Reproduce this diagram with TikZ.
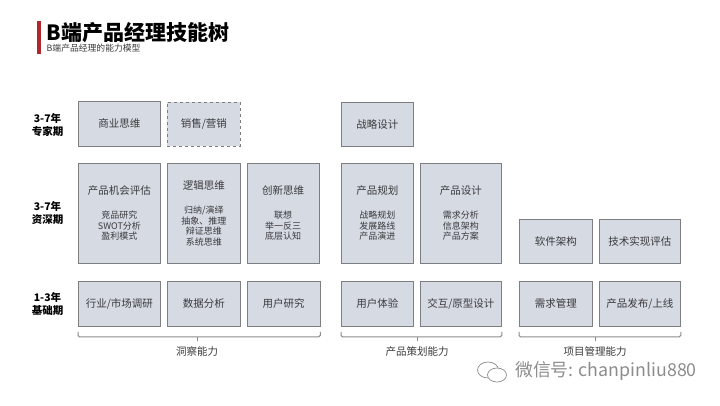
\documentclass[tikz,border=0pt]{standalone}
\usepackage{fontspec}
\setmainfont{Noto Sans CJK SC}
\usepackage{tikz}
\usetikzlibrary{positioning,calc}
\definecolor{ink}      {HTML}{3A3A3C}
\definecolor{boxfill}  {HTML}{D5DAE3}
\definecolor{boxline}  {HTML}{7C7E82}
\definecolor{barred}   {HTML}{B0272D}
\definecolor{softink}  {HTML}{8C8C8C}
\newcommand{\sline}[1]{{\fontsize{9}{10.5}\selectfont #1}}
\tikzset{
  % --- nodes
  skill/.style  = {draw=boxline, fill=boxfill, line width=0.8pt, align=center, anchor=north west,
                   inner sep=0pt, text=ink, font=\fontsize{10.5}{10.5}\selectfont},
  maybe/.style  = {skill, dashed},
  stage/.style  = {align=center, text=black, inner sep=0pt, font=\fontsize{10.5}{13}\selectfont\bfseries},
  group/.style  = {text=ink, inner sep=0pt, font=\fontsize{10.5}{13}\selectfont},
  % --- edges
  bracket/.style= {draw=softink, line width=1pt, rounded corners=1.5pt},
  tick/.style   = {draw=softink, line width=0.8pt},
}
\begin{document}
\begin{tikzpicture}[x=1pt,y=-1pt]
  \useasboundingbox (0,0) rectangle (720,405);
  % header
  \fill[barred] (37,21) rectangle (41,54);
  \node[anchor=west,inner sep=0pt,font=\fontsize{21}{24}\selectfont\bfseries,text=black] (title) at (46.5,33) {B端产品经理技能树};
  \node[anchor=west,inner sep=0pt,font=\fontsize{8.8}{10}\selectfont,text=ink] (subtitle) at (46.5,48.5) {B端产品经理的能力模型};
  % stages
  \node[stage] (expert) at (47.5,125) {3-7年\\专家期};
  \node[stage] (senior) at (47.5,212.5) {3-7年\\资深期};
  \node[stage] (basic) at (47.5,303.5) {1-3年\\基础期};
  % boxes
  \foreach \nm/\sty/\px/\py/\bw/\bh/\txt in {
    biz/skill/78/101/82/45/{商业思维},
    sales/maybe/167/102/73/44/{销售/营销},
    strategy/skill/341/102/72/44/{战略设计},
    chance/skill/78/163/82/99.5/{产品机会评估\\[14pt]\sline{竞品研究}\\\sline{SWOT分析}\\\sline{盈利模式}},
    logic/skill/167/163/73/99.5/{逻辑思维\\[14pt]\sline{归纳/演绎}\\\sline{抽象、推理}\\\sline{辩证思维}\\\sline{系统思维}},
    create/skill/247/163/71.5/99.5/{创新思维\\[14pt]\sline{联想}\\\sline{举一反三}\\\sline{底层认知}},
    plan/skill/341/163/72/99.5/{产品规划\\[14pt]\sline{战略规划}\\\sline{发展路线}\\\sline{产品演进}},
    design/skill/420/163/81/99.5/{产品设计\\[14pt]\sline{需求分析}\\\sline{信息架构}\\\sline{产品方案}},
    arch/skill/519/219/73/43.5/{软件架构},
    tech/skill/599/219/81/43.5/{技术实现评估},
    market/skill/78/281/82/45/{行业/市场调研},
    data/skill/167/281/73/45/{数据分析},
    user/skill/247/281/72.5/45/{用户研究},
    ux/skill/341/281/72/45/{用户体验},
    proto/skill/420/281/81/45/{交互/原型设计},
    req/skill/519/281/73/45/{需求管理},
    launch/skill/599/281/81/45/{产品发布/上线}}
  {
    \node[\sty,minimum width=\bw pt,minimum height=\bh pt] (\nm) at (\px,\py) {\txt};
  }
  % group labels
  \node[group] (insight) at (197,352) {洞察能力};
  \node[group] (product) at (417,352) {产品策划能力};
  \node[group] (project) at (595,352) {项目管理能力};
  % brackets
  \foreach \lft/\rgt/\grp in {market/user/insight, ux/proto/product, req/launch/project}
  {
    \draw[bracket] ($(\lft.south west)+(0,5)$) -- ($(\lft.south west)+(0,10)$) -- ($(\rgt.south east)+(0,10)$) -- ($(\rgt.south east)+(0,5)$);
    \draw[tick] ($(\grp.north)+(0,-5.5)$) -- ($(\grp.north)+(0,-9.5)$);
  }
  % watermark
  \draw[softink,fill=white,line width=0.7pt] (488,370) ellipse (10.5 and 8);
  \draw[softink,fill=white,line width=0.7pt] (497,375) ellipse (9.5 and 7);
  \node[anchor=west,inner sep=0pt,text=softink,font=\fontsize{17.8}{20}\selectfont] (mark) at (515,371) {微信号: chanpinliu880};
\end{tikzpicture}
\end{document}
